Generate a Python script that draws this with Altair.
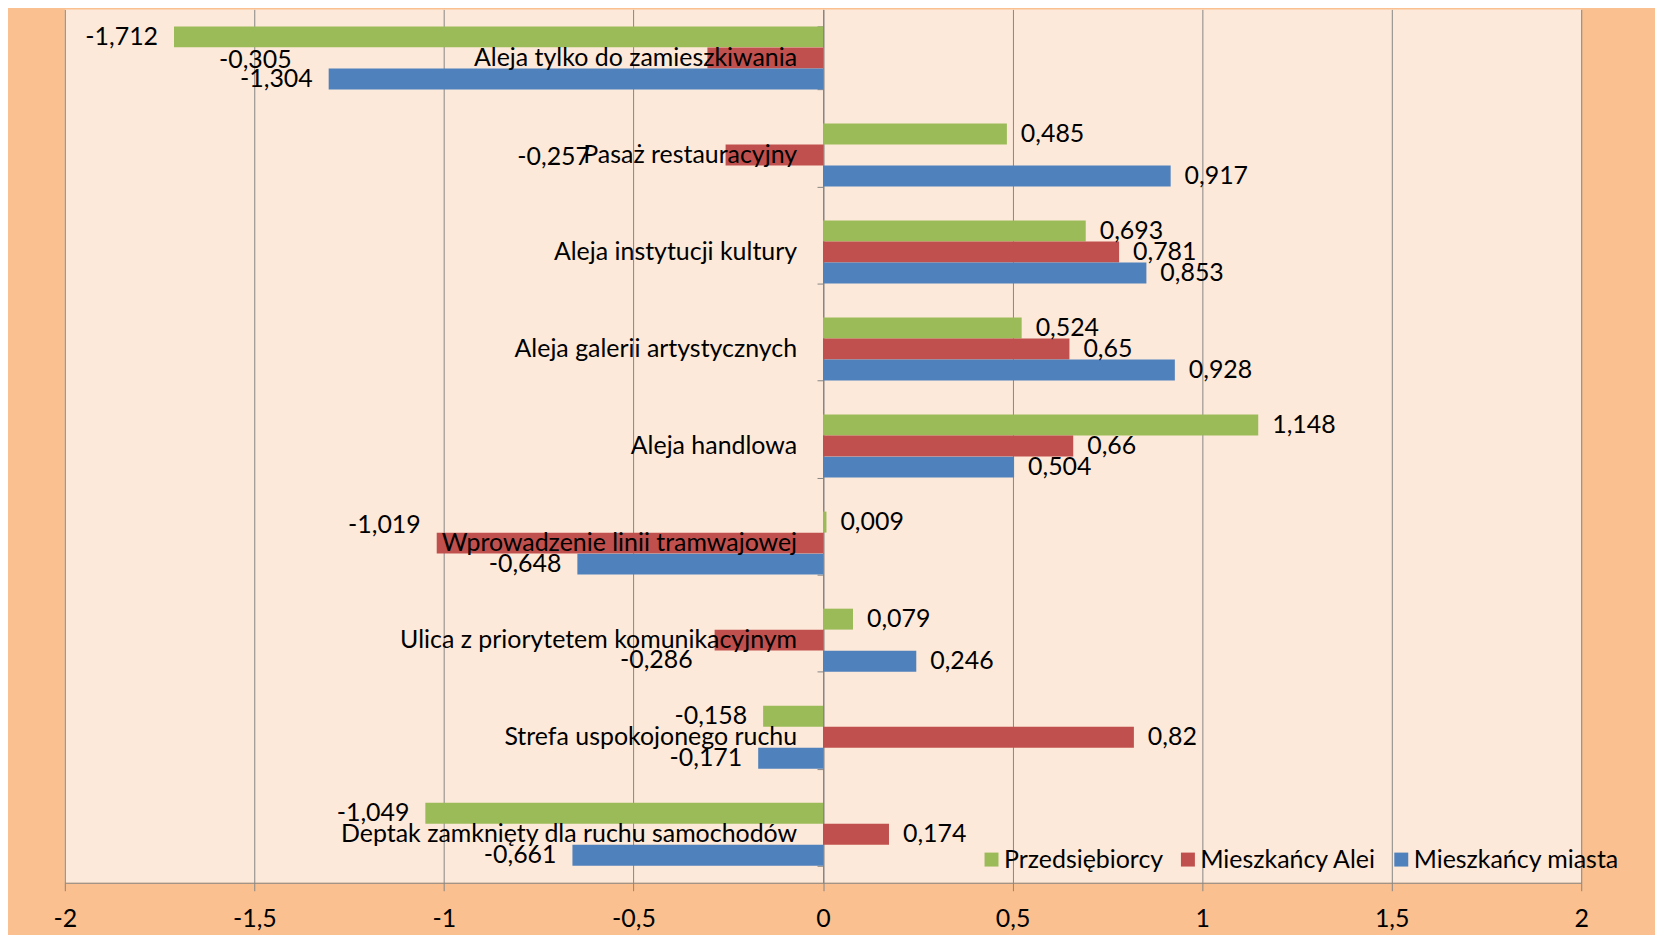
import altair as alt
import pandas as pd

# ---------------- data ----------------
categories = [
    "Aleja tylko do zamieszkiwania",
    "Pasaż restauracyjny",
    "Aleja instytucji kultury",
    "Aleja galerii artystycznych",
    "Aleja handlowa",
    "Wprowadzenie linii tramwajowej",
    "Ulica z priorytetem komunikacyjnym",
    "Strefa uspokojonego ruchu",
    "Deptak zamknięty dla ruchu samochodów",
]
series = ["Przedsiębiorcy", "Mieszkańcy Alei", "Mieszkańcy miasta"]
przedsiebiorcy = [-1.712, 0.485, 0.693, 0.524, 1.148, 0.009, 0.079, -0.158, -1.049]
mieszkancy_alei = [-0.305, -0.257, 0.781, 0.65, 0.66, -1.019, -0.286, 0.82, 0.174]
mieszkancy_miasta = [-1.304, 0.917, 0.853, 0.928, 0.504, -0.648, 0.246, -0.171, -0.661]
x_ticks = [-2, -1.5, -1, -0.5, 0, 0.5, 1, 1.5, 2]

# ---------------- style ----------------
colors = ["#9BBB59", "#C0504D", "#4F81BD"]
FONT = "Lato"
FS = 25
W, H = 1521, 876
# manually moved data labels (as in the original): (category, series) -> (dx, dy)
NUDGE = {
    ("Aleja tylko do zamieszkiwania", "Mieszkańcy Alei"): (-401, 2),
    ("Pasaż restauracyjny", "Mieszkańcy Alei"): (-120, 2),
    ("Wprowadzenie linii tramwajowej", "Mieszkańcy Alei"): (0, -18),
    ("Ulica z priorytetem komunikacyjnym", "Mieszkańcy Alei"): (-6, 20),
}

rows = []
for s, vals in zip(series, [przedsiebiorcy, mieszkancy_alei, mieszkancy_miasta]):
    for c, v in zip(categories, vals):
        rows.append({
            "cat": c, "series": s, "value": v,
            "label": str(v).replace(".", ","),
            "nudged": (c, s) in NUDGE,
        })
df = pd.DataFrame(rows)
cat_df = pd.DataFrame({"cat": categories})

y_enc = alt.Y("cat:N", sort=categories,
              scale=alt.Scale(domain=categories, paddingInner=0.35, paddingOuter=0.175),
              axis=alt.Axis(orient="left", offset=-W / 2, labels=False, title=None,
                            domain=True, domainColor="#868686", ticks=True,
                            tickBand="extent", tickSize=6, tickColor="#868686", grid=False))
yoff_enc = alt.YOffset("series:N", sort=series,
                       scale=alt.Scale(domain=series, paddingInner=0, paddingOuter=0))
x_enc = alt.X("value:Q",
              scale=alt.Scale(domain=[-2, 2], nice=False, zero=False),
              axis=alt.Axis(values=x_ticks, title=None, grid=True, gridColor="#868686",
                            domainColor="#868686", tickColor="#868686", tickSize=8,
                            labelFontSize=FS, labelFont=FONT, labelColor="#000000",
                            labelPadding=16, labelFlush=False,
                            labelExpr="replace(toString(datum.value), '.', ',')"))

base = alt.Chart(df)

bars = base.mark_bar(size=21).encode(
    y=y_enc, yOffset=yoff_enc, x=x_enc, x2=alt.datum(0),
    color=alt.Color("series:N", sort=series,
                    scale=alt.Scale(domain=series, range=colors),
                    legend=alt.Legend(title=None, orient="none", legendX=917, legendY=840,
                                      direction="horizontal", symbolType="square",
                                      symbolSize=196, symbolStrokeWidth=0,
                                      labelFontSize=FS, labelFont=FONT, labelColor="#000000",
                                      labelOffset=0, columnPadding=12, labelLimit=0)),
)

cat_labels = alt.Chart(cat_df).mark_text(
    align="right", baseline="middle", dx=-26, font=FONT, fontSize=FS, color="#000000"
).encode(y=alt.Y("cat:N", sort=categories), x=alt.datum(0), text="cat:N")

txt_kw = dict(baseline="middle", font=FONT, fontSize=FS, color="#000000")
pos_labels = base.transform_filter("datum.value >= 0 && !datum.nudged").mark_text(
    align="left", dx=14, **txt_kw
).encode(y=alt.Y("cat:N", sort=categories), yOffset=alt.YOffset("series:N", sort=series),
         x="value:Q", text="label:N")
neg_labels = base.transform_filter("datum.value < 0 && !datum.nudged").mark_text(
    align="right", dx=-16, **txt_kw
).encode(y=alt.Y("cat:N", sort=categories), yOffset=alt.YOffset("series:N", sort=series),
         x="value:Q", text="label:N")

nudged_layers = []
for (c, s), (ndx, ndy) in NUDGE.items():
    v = df[(df.cat == c) & (df.series == s)].value.iloc[0]
    al = "left" if v >= 0 else "right"
    base_dx = 14 if v >= 0 else -16
    nudged_layers.append(
        base.transform_filter(
            alt.FieldEqualPredicate(field="cat", equal=c)
        ).transform_filter(
            alt.FieldEqualPredicate(field="series", equal=s)
        ).mark_text(align=al, dx=base_dx + ndx, dy=ndy, **txt_kw).encode(
            y=alt.Y("cat:N", sort=categories),
            yOffset=alt.YOffset("series:N", sort=series),
            x="value:Q", text="label:N")
    )

chart = alt.layer(bars, cat_labels, pos_labels, neg_labels, *nudged_layers).properties(
    width=W, height=H,
    autosize=alt.AutoSizeParams(type="none"),
    padding={"left": 57, "right": 74, "top": 0, "bottom": 51},
    background="#FAC090",
).configure_view(fill="#FDE9D9", strokeWidth=0)

chart.save("out.html", embed_options={"renderer": "svg", "actions": False})
